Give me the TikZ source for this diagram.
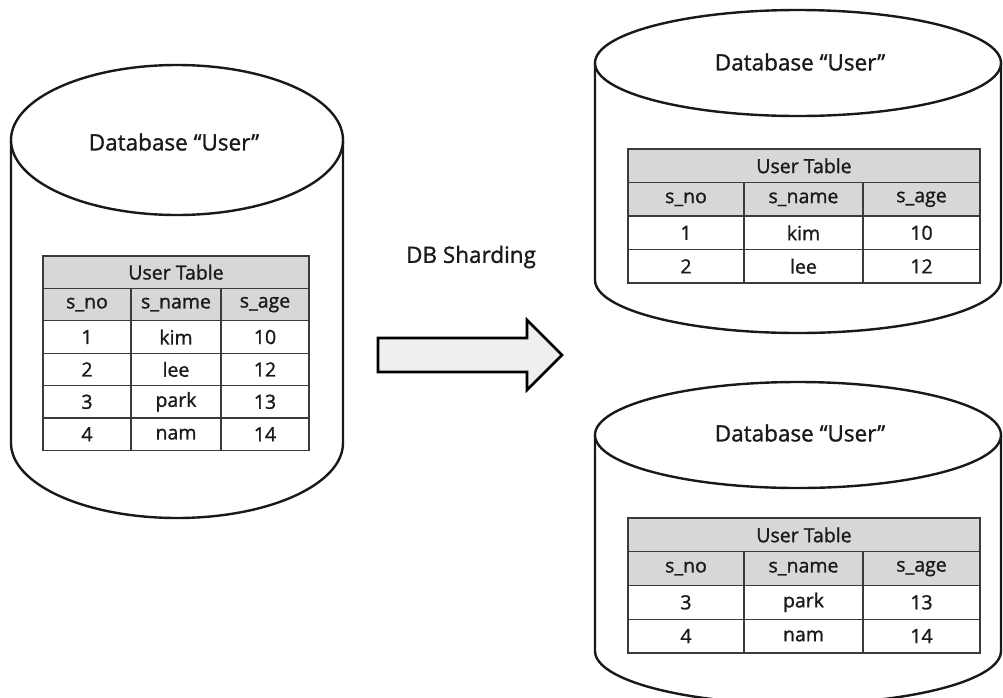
\documentclass[tikz,border=0pt]{standalone}
\usepackage{fontspec}
\setmainfont{Open Sans}[FakeBold=1.2]
\definecolor{inkgray}{HTML}{1A1A1A}
\definecolor{rulegray}{HTML}{3A3A3A}
\definecolor{headgray}{HTML}{D7D7D7}
\definecolor{arrowfill}{HTML}{EFEFEF}
\begin{document}
\begin{tikzpicture}[x=1pt, y=-1pt,
		cyl/.style={draw=black!90, line width=2.4pt, fill=white},
		dbtitle/.style={font=\fontsize{22.5}{26}\selectfont, text=inkgray},
		cell/.style={draw=rulegray, line width=1.3pt, inner sep=0pt, font=\fontsize{19.5}{22}\selectfont, text=inkgray},
		hdr/.style={cell, fill=headgray}]
		\useasboundingbox (0,0) rectangle (1003,697);
		
		% left database
		\draw[cyl] (11,140) -- (11,443) arc[start angle=180, end angle=0, x radius=166, y radius=75] -- (343,140);
		\draw[cyl] (177,140) ellipse[x radius=166, y radius=75];
		\node[dbtitle] (A) at (174,142) {Database “User”};
		
		\node[hdr, minimum width=266pt, minimum height=32.4pt] (A0) at (176,272.2) {User Table};
		\node[hdr, minimum width=88pt, minimum height=32.4pt] (A1) at (87,304.6) {s\_no};
		\node[hdr, minimum width=90pt, minimum height=32.4pt] (A2) at (176,304.6) {s\_name};
		\node[hdr, minimum width=88pt, minimum height=32.4pt] (A3) at (265,304.6) {s\_age};
		\foreach \n/\name/\age [count=\i] in {1/kim/10, 2/lee/12, 3/park/13, 4/nam/14} {
			\node[cell, minimum width=88pt, minimum height=32.4pt] (A\i a) at (87,304.6+32.4*\i) {\n};
			\node[cell, minimum width=90pt, minimum height=32.4pt] (A\i b) at (176,304.6+32.4*\i) {\name};
			\node[cell, minimum width=88pt, minimum height=32.4pt] (A\i c) at (265,304.6+32.4*\i) {\age};
		}
		
		% sharding arrow
		\node[dbtitle] (S) at (471,257) {DB Sharding};
		\draw[draw=black, line width=2.6pt, fill=arrowfill, line join=miter]
			(378,338) -- (527,338) -- (527,320) -- (562,355) -- (527,390) -- (527,372) -- (378,372) -- cycle;
		
		% upper shard
		\draw[cyl] (595,63) -- (595,280) arc[start angle=180, end angle=0, x radius=203, y radius=53] -- (1001,63);
		\draw[cyl] (798,63) ellipse[x radius=203, y radius=53];
		\node[dbtitle] (B) at (800,62) {Database “User”};
		
		\node[hdr, minimum width=352pt, minimum height=33.5pt] (B0) at (804,165.8) {User Table};
		\node[hdr, minimum width=116pt, minimum height=33.5pt] (B1) at (686,199.3) {s\_no};
		\node[hdr, minimum width=119pt, minimum height=33.5pt] (B2) at (803.5,199.3) {s\_name};
		\node[hdr, minimum width=117pt, minimum height=33.5pt] (B3) at (921.5,199.3) {s\_age};
		\foreach \n/\name/\age [count=\i] in {1/kim/10, 2/lee/12} {
			\node[cell, minimum width=116pt, minimum height=33.5pt] (B\i a) at (686,199.3+33.5*\i) {\n};
			\node[cell, minimum width=119pt, minimum height=33.5pt] (B\i b) at (803.5,199.3+33.5*\i) {\name};
			\node[cell, minimum width=117pt, minimum height=33.5pt] (B\i c) at (921.5,199.3+33.5*\i) {\age};
		}
		
		% lower shard
		\draw[cyl] (595,435) -- (595,651) arc[start angle=180, end angle=0, x radius=203, y radius=53] -- (1001,435);
		\draw[cyl] (798,435) ellipse[x radius=203, y radius=53];
		\node[dbtitle] (C) at (800,433) {Database “User”};
		
		\node[hdr, minimum width=352pt, minimum height=33.7pt] (C0) at (804,534.9) {User Table};
		\node[hdr, minimum width=116pt, minimum height=33.7pt] (C1) at (686,568.6) {s\_no};
		\node[hdr, minimum width=119pt, minimum height=33.7pt] (C2) at (803.5,568.6) {s\_name};
		\node[hdr, minimum width=117pt, minimum height=33.7pt] (C3) at (921.5,568.6) {s\_age};
		\foreach \n/\name/\age [count=\i] in {3/park/13, 4/nam/14} {
			\node[cell, minimum width=116pt, minimum height=33.7pt] (C\i a) at (686,568.6+33.7*\i) {\n};
			\node[cell, minimum width=119pt, minimum height=33.7pt] (C\i b) at (803.5,568.6+33.7*\i) {\name};
			\node[cell, minimum width=117pt, minimum height=33.7pt] (C\i c) at (921.5,568.6+33.7*\i) {\age};
		}
	\end{tikzpicture}
\end{document}
